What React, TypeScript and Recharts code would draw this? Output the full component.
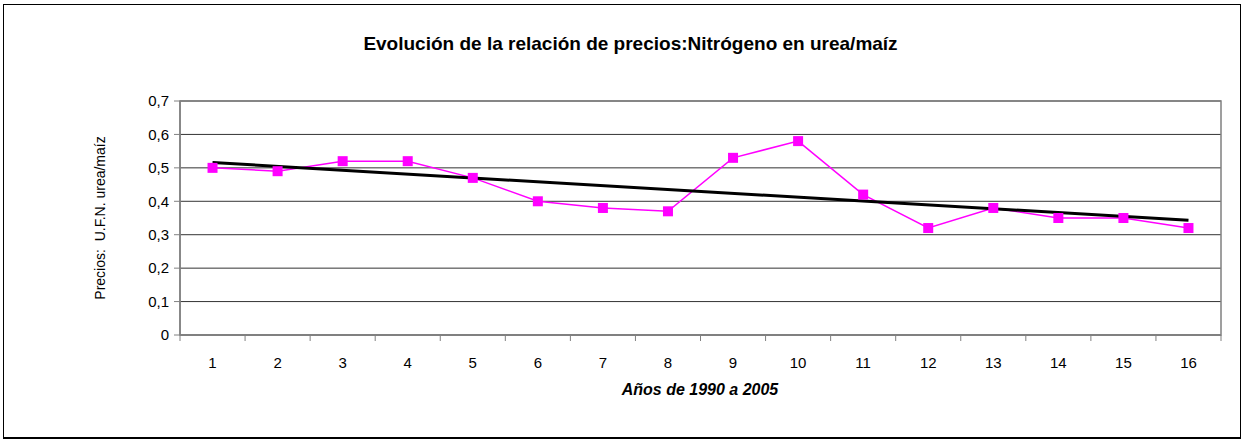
import React from "react";
import {
  LineChart,
  Line,
  XAxis,
  YAxis,
  CartesianGrid,
  ReferenceArea,
} from "recharts";

// Años 1990-2005 numerados 1..16
const anios = [1, 2, 3, 4, 5, 6, 7, 8, 9, 10, 11, 12, 13, 14, 15, 16];
const relacionPrecios = [
  0.5, 0.49, 0.52, 0.52, 0.47, 0.4, 0.38, 0.37, 0.53, 0.58, 0.42, 0.32, 0.38,
  0.35, 0.35, 0.32,
];
// Línea de tendencia: extremos
const tendencia: (number | null)[] = [
  0.516, null, null, null, null, null, null, null, null, null, null, null,
  null, null, null, 0.343,
];
const yTicks = [0, 0.1, 0.2, 0.3, 0.4, 0.5, 0.6, 0.7];

const titulo = "Evolución de la relación de precios:Nitrógeno en urea/maíz";
const tituloEjeX = "Años de 1990 a 2005";
const tituloEjeY = "Precios:  U.F.N. urea/maíz";

const data = anios.map((a, i) => ({
  anio: a,
  precio: relacionPrecios[i],
  tendencia: tendencia[i],
}));

// ticks at band edges (unlabelled) and band centres (labelled)
const xTicks = anios.flatMap((a) => [a - 0.5, a]).concat(anios[anios.length - 1] + 0.5);

const W = 1253;
const H = 441;
const PLOT_TOP = 101;
const PLOT_BOTTOM = 335;
const FONT = "'Liberation Sans', Arial, sans-serif";

const XTick = (props: any) => {
  const { x, payload } = props;
  const v = payload.value;
  if (Number.isInteger(v)) {
    return (
      <text
        x={x}
        y={PLOT_BOTTOM + 33}
        textAnchor="middle"
        fontSize={15}
        fontFamily={FONT}
        fill="#000"
      >
        {v}
      </text>
    );
  }
  return <line x1={x} x2={x} y1={PLOT_BOTTOM} y2={PLOT_BOTTOM + 6} stroke="#808080" />;
};

const SquareDot = (props: any) => {
  const { cx, cy } = props;
  if (cx == null || cy == null) return null;
  return <rect x={cx - 5} y={cy - 5} width={10} height={10} fill="#FF00FF" />;
};

export default function App() {
  return (
    <div
      style={{
        position: "absolute",
        left: 0,
        top: 0,
        width: W,
        height: H,
        background: "#fff",
        fontFamily: FONT,
      }}
    >
      <div
        style={{
          position: "absolute",
          left: 3,
          top: 4,
          width: 1236,
          height: 432,
          borderTop: "1px solid #000",
          borderLeft: "1px solid #000",
          borderRight: "1px solid #000",
          borderBottom: "2px solid #000",
        }}
      />
      <div
        style={{
          position: "absolute",
          left: 0,
          width: 1261,
          top: 32,
          textAlign: "center",
          fontSize: 19,
          lineHeight: "24px",
          fontWeight: "bold",
          color: "#000",
          whiteSpace: "nowrap",
        }}
      >
        {titulo}
      </div>
      <div
        style={{
          position: "absolute",
          left: 100,
          top: PLOT_TOP + (PLOT_BOTTOM - PLOT_TOP) / 2,
          transform: "translate(-50%, -50%) rotate(-90deg)",
          fontSize: 14,
          color: "#000",
          whiteSpace: "pre",
        }}
      >
        {tituloEjeY}
      </div>
      <div
        style={{
          position: "absolute",
          left: 0,
          width: 1400,
          top: 380,
          textAlign: "center",
          fontSize: 16,
          lineHeight: "20px",
          fontWeight: "bold",
          fontStyle: "italic",
          color: "#000",
          whiteSpace: "nowrap",
        }}
      >
        {tituloEjeX}
      </div>
      <div style={{ position: "absolute", left: 0, top: 0 }}>
        <LineChart
          width={W}
          height={H}
          data={data}
          margin={{ top: PLOT_TOP, right: 32, left: 130, bottom: H - PLOT_BOTTOM - 30 }}
        >
          <CartesianGrid vertical={false} stroke="#333" strokeWidth={1} />
          <ReferenceArea
            x1={0.5}
            x2={16.5}
            y1={0}
            y2={0.7}
            fill="none"
            stroke="#808080"
            strokeWidth={1.5}
          />
          <XAxis
            dataKey="anio"
            type="number"
            domain={[0.5, 16.5]}
            ticks={xTicks}
            interval={0}
            tick={<XTick />}
            tickLine={false}
            axisLine={{ stroke: "#808080", strokeWidth: 2 }}
            height={30}
          />
          <YAxis
            domain={[0, 0.7]}
            ticks={yTicks}
            interval={0}
            width={50}
            tickSize={6}
            tickMargin={5}
            tickLine={{ stroke: "#808080" }}
            axisLine={{ stroke: "#808080", strokeWidth: 1.5 }}
            tick={{ fontSize: 15, fill: "#000", fontFamily: FONT }}
            tickFormatter={(v: number) => String(Math.round(v * 10) / 10).replace(".", ",")}
          />
          <Line
            type="linear"
            dataKey="precio"
            stroke="#FF00FF"
            strokeWidth={1.5}
            dot={<SquareDot />}
            activeDot={false}
            isAnimationActive={false}
          />
          <Line
            type="linear"
            dataKey="tendencia"
            stroke="#000"
            strokeWidth={3}
            dot={false}
            activeDot={false}
            connectNulls
            isAnimationActive={false}
          />
        </LineChart>
      </div>
    </div>
  );
}
